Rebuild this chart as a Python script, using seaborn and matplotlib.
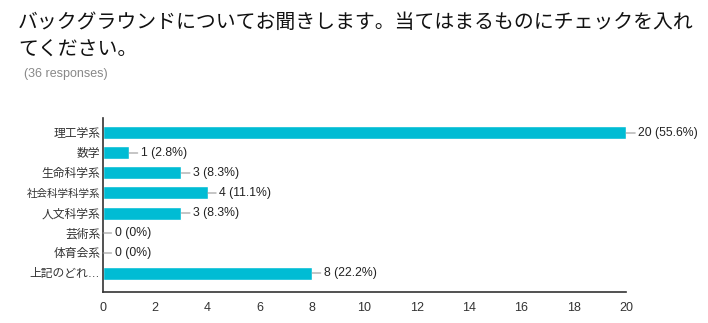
import matplotlib
matplotlib.use("Agg")
import matplotlib.pyplot as plt
import seaborn as sns
import pandas as pd

categories = ["理工学系", "数学", "生命科学系", "社会科学科学系", "人文科学系", "芸術系", "体育会系", "上記のどれ…"]
counts = [20, 1, 3, 4, 3, 0, 0, 8]
labels = ["20 (55.6%)", "1 (2.8%)", "3 (8.3%)", "4 (11.1%)", "3 (8.3%)", "0 (0%)", "0 (0%)", "8 (22.2%)"]
xticks = [0, 2, 4, 6, 8, 10, 12, 14, 16, 18, 20]
title_lines = ["バックグラウンドについてお聞きします。当てはまるものにチェックを入れ", "てください。"]
subtitle = "(36 responses)"

sns.set_theme(style="white")
FAM = ["Liberation Sans", "Noto Sans CJK JP", "DejaVu Sans"]
plt.rcParams["font.family"] = FAM

df = pd.DataFrame({"cat": categories, "n": counts})

fig = plt.figure(figsize=(7.08, 3.23), dpi=100)
ax = fig.add_axes([103/708, 1-292/323, (626-103)/708, (292-118)/323])
sns.barplot(data=df, x="n", y="cat", color="#00BCD4", saturation=1, width=0.65, ax=ax)

ax.set_xlim(0, 20)
ax.set_ylim(7.95, -0.75)
ax.set_xticks(xticks)
ax.set_xticklabels([str(t) for t in xticks])
ax.set_xlabel("")
ax.set_ylabel("")
ax.tick_params(axis="both", length=0, labelsize=9, colors="#333333")
ax.tick_params(axis="x", pad=7)
ax.tick_params(axis="y", pad=2)
for lbl in ax.get_yticklabels():
    lbl.set_fontsize(7.6 if len(lbl.get_text()) > 6 else 8.5)
for s in ["top", "right"]:
    ax.spines[s].set_visible(False)
for s in ["left", "bottom"]:
    ax.spines[s].set_color("#333333")
    ax.spines[s].set_linewidth(1.2)

for i, (v, lab) in enumerate(zip(counts, labels)):
    if v >= 20:
        ax.annotate(lab, xy=(v, i), xytext=(9, 0), textcoords="offset points",
                    va="center", ha="left", fontsize=8.8, color="#222222",
                    annotation_clip=False,
                    arrowprops=dict(arrowstyle="-", color="#999999", lw=0.8,
                                    shrinkA=0, shrinkB=16))
    else:
        ax.annotate(lab, xy=(v, i), xytext=(8.5, 0), textcoords="offset points",
                    va="center", ha="left", fontsize=8.8, color="#222222",
                    arrowprops=dict(arrowstyle="-", color="#999999", lw=0.8,
                                    shrinkA=0, shrinkB=0, relpos=(0, 0.5)))

fig.text(18/708, 1-22/323, title_lines[0], fontsize=14.3, color="#111111", va="center", ha="left")
fig.text(18/708, 1-50/323, title_lines[1], fontsize=14.3, color="#111111", va="center", ha="left")
fig.text(24/708, 1-74/323, subtitle, fontsize=9, color="#888888", va="center", ha="left")

fig.savefig("out.png", dpi=100)
